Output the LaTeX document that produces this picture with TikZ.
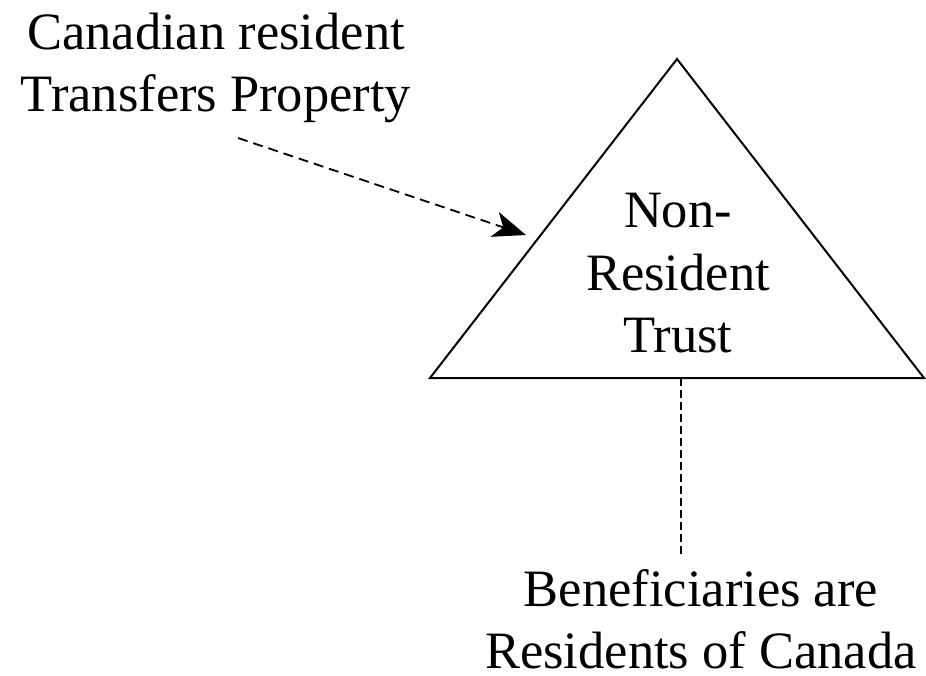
\documentclass[tikz,border=0pt]{standalone}
\usepackage{fontspec}
\setmainfont{Liberation Serif}
\usetikzlibrary{arrows.meta}
\begin{document}
\begin{tikzpicture}[x=1pt,y=-1pt,
  lbl/.style={font=\fontsize{52.5}{62}\selectfont, align=center, inner sep=0pt, anchor=base},
  edge/.style={line width=2pt, line join=miter},
  dasharrow/.style={line width=1.8pt, dash pattern=on 10pt off 6pt, -{Stealth[length=33pt,width=26pt,inset=9pt]}},
  dashline/.style={line width=1.3pt, dash pattern=on 8pt off 4pt}]
\useasboundingbox (0,0) rectangle (926,676);
\coordinate (apex) at (677,59);
\coordinate (bl) at (430,378);
\coordinate (br) at (924,378);
\coordinate (basemid) at (681,378);
\coordinate (tip) at (526,235);
\coordinate (tail) at (238,138);
\coordinate (benetop) at (681,555);
\draw[edge] (apex) -- (br) -- (bl) -- cycle;
\node[lbl] (trust) at (678,352) {Non-\\Resident\\Trust};
\node[lbl] (src) at (216,112) {Canadian resident\\Transfers Property};
\node[lbl] (bene) at (701,668) {Beneficiaries are\\Residents of Canada};
\draw[dasharrow] (tail) -- (tip);
\draw[dashline] (basemid) -- (benetop);
\end{tikzpicture}
\end{document}
